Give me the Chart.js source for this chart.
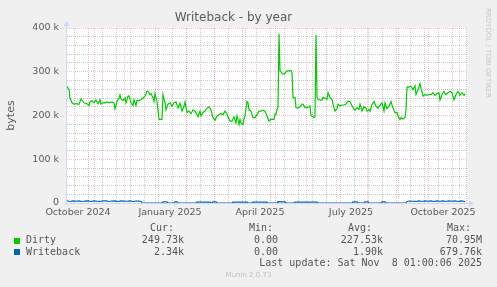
<!DOCTYPE html>
<html>
<head>
<meta charset="utf-8">
<script src="https://cdn.jsdelivr.net/npm/chart.js@4.4.1/dist/chart.umd.min.js"></script>
<style>
  html, body { margin: 0; padding: 0; background: #f0f0f0; }
  #wrap { position: relative; width: 497px; height: 287px; overflow: hidden; }
  #graph { position: absolute; left: 0; top: 0; }
  .t { position: absolute; white-space: pre; font-family: "DejaVu Sans Mono", monospace;
       font-size: 10px; line-height: 12px; color: #555; }
  .sq { position: absolute; width: 6px; height: 6px; }
  #rrd { position: absolute; left: 488px; top: 53px; transform: translate(-50%, -50%) rotate(90deg);
         font-family: "DejaVu Sans", sans-serif; font-size: 7px; color: #c8c8c8; white-space: pre; }
  #ver { position: absolute; left: 0; width: 497px; top: 271px; text-align: center;
         font-family: "DejaVu Sans", sans-serif; font-size: 7px; color: #c0c0c0; }
</style>
</head>
<body>
<div id="wrap">
  <canvas id="graph" width="497" height="287"></canvas>
  <div id="rrd">RRDTOOL / TOBI OETIKER</div>

  <div class="t" style="left:150px;top:221.5px">Cur:</div>
  <div class="t" style="left:249px;top:221.5px">Min:</div>
  <div class="t" style="left:348px;top:221.5px">Avg:</div>
  <div class="t" style="left:447px;top:221.5px">Max:</div>

  <div class="sq" style="left:14px;top:237.5px;background:#00cc00"></div>
  <div class="t" style="left:26px;top:234px">Dirty</div>
  <div class="t" style="right:313px;top:234px">249.73k</div>
  <div class="t" style="right:219px;top:234px">0.00</div>
  <div class="t" style="right:114px;top:234px">227.53k</div>
  <div class="t" style="right:15px;top:234px">70.95M</div>

  <div class="sq" style="left:14px;top:249px;background:#0066b3"></div>
  <div class="t" style="left:26px;top:245.5px">Writeback</div>
  <div class="t" style="right:313px;top:245.5px">2.34k</div>
  <div class="t" style="right:219px;top:245.5px">0.00</div>
  <div class="t" style="right:114px;top:245.5px">1.90k</div>
  <div class="t" style="right:15px;top:245.5px">679.76k</div>

  <div class="t" style="right:15px;top:257px">Last update: Sat Nov  8 01:00:06 2025</div>
  <div id="ver">Munin 2.0.73</div>
</div>
<script>
// days counted from 30 Sep 2024, one rrd sample per day
var dirtyDays = [5,7,8,10,12,15,17,19,21,22,25,27,28,30,32,34,36,38,39,41,43,45,47,50,52,53,55,57,58,59,
  61,63,64,66,67,69,71,72,74,75,77,79,81,83,85,86,88,89,91,92,93,95,96,97,99,100,101,103,104,106,
  108,110,112,114,116,118,120,122,123,125,127,129,131,133,135,136,138,139,141,143,
  145,147,149,151,153,155,157,159,161,163,165,166,168,170,172,174,175,177,178,179,
  181,182,183,185,186,187,189,191,193,195,197,199,201,203,205,207,209,
  210,212,213,214,215,216,217,218,221,223,225,227,229,230,231,233,234,236,238,240,
  241,243,245,247,248,249,251,252,253,254,255,256,258,260,261,263,265,266,268,270,
  271,273,275,276,278,280,282,284,286,288,290,291,293,295,297,298,300,302,304,305,307,
  308,310,312,314,316,318,320,322,323,325,327,329,331,333,335,336,338,339,341,343,
  344,345,347,349,351,353,354,356,358,359,361,363,365,367,369,371,373,375,377,378,
  380,382,384,386,388,390,392,394,396,398,400,402,403];
// Dirty, in kB
var dirtyK = [267,259,240,229,226,227,225,238,232,229,227,223,231,234,229,235,227,236,226,229,
  229,231,229,231,229,215,232,240,247,238,234,240,229,244,245,229,223,236,223,234,
  234,236,240,244,256,256,248,250,240,232,250,232,213,191,191,191,248,229,213,226,
  229,221,229,231,217,228,210,221,231,207,210,204,213,210,202,197,210,199,207,210,
  217,220,213,195,189,199,202,204,202,210,204,197,187,187,197,183,199,179,191,182,
  179,192,199,232,229,213,210,195,195,202,210,210,212,210,199,187,192,
  191,191,203,202,214,218,387,302,294,296,302,302,303,298,241,241,218,217,220,226,
  226,218,218,220,222,199,197,195,197,384,241,237,235,235,241,240,237,252,241,237,
  226,210,216,226,222,224,224,226,233,232,222,218,212,218,214,226,210,220,217,210,214,
  210,225,232,221,217,223,229,210,229,216,221,232,217,206,207,199,191,195,192,195,
  213,265,265,267,259,268,248,259,273,262,244,248,246,248,248,252,246,250,252,235,
  248,255,248,252,255,252,236,248,255,246,252,246,250];

var wbDays = [5,8,11,14,17,20,23,26,29,32,35,38,41,44,47,50,53,56,59,62,65,68,71,74,77,79,80,
  100,101,105,106,112,113,115,116,134,135,148,149,150,151,154,155,170,171,185,186,
  190,191,205,206,215,216,223,224,232,233,255,256,290,291,295,296,302,303,306,307,319,320,323,324,
  344,345,348,351,354,357,360,363,366,369,372,375,378,381,384,387,390,393,396,399,402,403];
// Writeback, in kB
var wbK = [5,3.5,5,4,5,3.5,4.5,5,3.5,5,4,3.5,5,5,3.5,4.5,5,3.5,5,4.5,4,5,3.5,4.5,4.5,3.5,0,
  0,2.5,2.5,0,0,2.5,2.5,0,0,2,2,0,0,2.5,2.5,0,0,2,2,0,
  0,2,2,0,0,3,2.5,0,0,2,2,0,0,2.5,2.5,0,0,2.5,2.5,0,0,2.5,2.5,0,
  0,3.5,4.5,4,3.5,5,3.5,5,4,5,3.5,5,4,5,3.5,5,4,5,3.5,5,4,2.34];

// month starts (red grid) and month labels
var monthDays = [32,62,93,124,152,183,213,244,274,305,336,366,397];
var labelDays = [16,108,198,289,381];
var labelText = ['October 2024','January 2025','April 2025','July 2025','October 2025'];

var weekDays = [];
for (var d = 12; d < 405; d += 14) weekDays.push(d);
var xTicks = weekDays.concat(monthDays).concat(labelDays);

var MGRID = 'rgba(228,120,120,0.42)';
var GRID = 'rgba(150,150,150,0.5)';
var AXIS = '#cfd6f8';
var FONT = {family: 'DejaVu Sans', size: 9.5};

function points(days, vals) {
    return days.map(function(d, i){ return {x: d, y: vals[i] * 1000}; });
}

// white canvas under the plot, axis lines and arrows drawn above the data like rrdtool
var muninFrame = {
    id: 'muninFrame',
    beforeDraw: function(chart) {
        var ctx = chart.ctx, a = chart.chartArea;
        ctx.save();
        ctx.fillStyle = '#ffffff';
        ctx.fillRect(a.left, a.top, a.right - a.left, a.bottom - a.top);
        ctx.restore();
    },
    afterDatasetsDraw: function(chart) {
        var ctx = chart.ctx, a = chart.chartArea;
        var lx = a.left - 0.5, by = a.bottom + 0.5;
        ctx.save();
        ctx.strokeStyle = AXIS;
        ctx.fillStyle = AXIS;
        ctx.lineWidth = 1;
        ctx.beginPath();
        ctx.moveTo(lx, by + 2); ctx.lineTo(lx, a.top - 2);
        ctx.moveTo(lx - 2, by); ctx.lineTo(a.right + 2, by);
        ctx.stroke();
        ctx.beginPath();
        ctx.moveTo(lx, a.top - 7); ctx.lineTo(lx - 3, a.top - 2); ctx.lineTo(lx + 3, a.top - 2);
        ctx.closePath(); ctx.fill();
        ctx.beginPath();
        ctx.moveTo(a.right + 7, by); ctx.lineTo(a.right + 2, by - 3); ctx.lineTo(a.right + 2, by + 3);
        ctx.closePath(); ctx.fill();
        ctx.restore();
    }
};

new Chart(document.getElementById('graph'), {
    type: 'line',
    data: {
        datasets: [
            {
                label: 'Dirty',
                data: points(dirtyDays, dirtyK),
                borderColor: '#00cc00',
                borderWidth: 1.2,
                pointRadius: 0,
                tension: 0,
                fill: false
            },
            {
                label: 'Writeback',
                data: points(wbDays, wbK),
                borderColor: '#0066b3',
                borderWidth: 1.2,
                pointRadius: 0,
                tension: 0,
                fill: false
            }
        ]
    },
    options: {
        responsive: false,
        animation: false,
        events: [],
        layout: {padding: {left: 0, right: 30, top: 0, bottom: 0}},
        plugins: {
            legend: {display: false},
            tooltip: {enabled: false},
            title: {
                display: true,
                text: 'Writeback - by year',
                color: '#5a5a5a',
                font: {family: 'DejaVu Sans', size: 12, weight: 'normal'},
                padding: {top: 11, bottom: 2.6}
            }
        },
        scales: {
            x: {
                type: 'linear',
                min: 5,
                max: 405,
                afterBuildTicks: function(scale) {
                    scale.ticks = xTicks.map(function(v){ return {value: v}; });
                },
                afterFit: function(scale) { scale.height = 84; },
                ticks: {
                    autoSkip: false,
                    maxRotation: 0,
                    padding: 4,
                    color: '#5a5a5a',
                    font: FONT,
                    callback: function(v) {
                        var i = labelDays.indexOf(v);
                        return i >= 0 ? labelText[i] : '';
                    }
                },
                grid: {
                    drawTicks: false,
                    color: function(c) {
                        var v = c.tick.value;
                        if (monthDays.indexOf(v) >= 0) return MGRID;
                        if (labelDays.indexOf(v) >= 0) return 'rgba(0,0,0,0)';
                        return GRID;
                    }
                },
                border: {display: false, dash: [1, 1]}
            },
            y: {
                min: 0,
                max: 400000,
                afterFit: function(scale) { scale.width = 67; },
                ticks: {
                    stepSize: 20000,
                    autoSkip: false,
                    padding: 8,
                    color: '#5a5a5a',
                    font: FONT,
                    callback: function(v) {
                        if (v % 100000 !== 0) return '';
                        return v === 0 ? '0' : (v / 1000) + ' k';
                    }
                },
                grid: {
                    drawTicks: false,
                    color: function(c) {
                        return c.tick.value % 100000 === 0 ? MGRID : GRID;
                    }
                },
                border: {display: false, dash: [1, 1]},
                title: {
                    display: true,
                    text: 'bytes',
                    color: '#5a5a5a',
                    font: {family: 'DejaVu Sans', size: 11},
                    padding: {top: 4.5, bottom: 0}
                }
            }
        }
    },
    plugins: [muninFrame]
});
</script>
</body>
</html>
